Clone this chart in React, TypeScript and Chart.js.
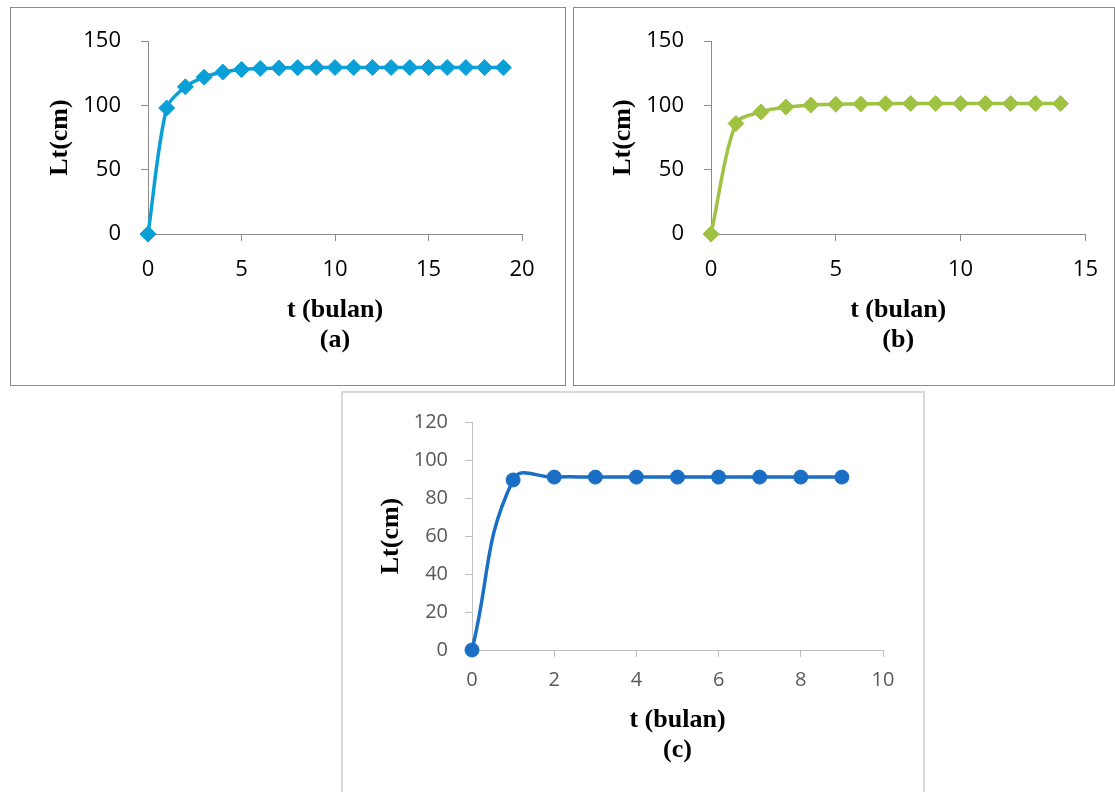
import React, { useEffect, useRef } from "react";
import { Chart, registerables } from "chart.js";

Chart.register(...registerables);

// ---- data ----
const tA = [0, 1, 2, 3, 4, 5, 6, 7, 8, 9, 10, 11, 12, 13, 14, 15, 16, 17, 18, 19];
const lA = [0, 98, 114.5, 122, 126, 128, 128.8, 129.2, 129.4, 129.5, 129.5, 129.5, 129.5, 129.5, 129.5, 129.5, 129.5, 129.5, 129.5, 129.5];
const xTicksA = [0, 5, 10, 15, 20];
const yTicksA = [0, 50, 100, 150];

const tB = [0, 1, 2, 3, 4, 5, 6, 7, 8, 9, 10, 11, 12, 13, 14];
const lB = [0, 86, 95, 98.8, 100.3, 100.9, 101.2, 101.4, 101.5, 101.5, 101.5, 101.5, 101.5, 101.5, 101.5];
const xTicksB = [0, 5, 10, 15];
const yTicksB = [0, 50, 100, 150];

const tC = [0, 1, 2, 3, 4, 5, 6, 7, 8, 9];
const lC = [0, 89.5, 91, 91, 91, 91, 91, 91, 91, 91];
const xTicksC = [0, 2, 4, 6, 8, 10];
const yTicksC = [0, 20, 40, 60, 80, 100, 120];

const xTitle = "t (bulan)";
const yTitle = "Lt(cm)";

type PanelProps = {
  left: number;
  top: number;
  w: number;
  h: number;
  borderW: number;
  borderColor: string;
  area: { left: number; top: number; right: number; bottom: number };
  titleBottom: number;
  yTitlePad: number;
  xs: number[];
  ys: number[];
  xTicks: number[];
  yTicks: number[];
  tag: string;
  color: string;
  pointStyle: string;
  pointRadius: number;
  lineWidth: number;
  tension: number;
  tickColor: string;
  axisColor: string;
  tickSize: number;
  xTickPad: number;
  yTickPad: number;
};

function Panel(p: PanelProps) {
  const ref = useRef<HTMLCanvasElement | null>(null);
  useEffect(() => {
    if (!ref.current) return;
    const titleFont = { family: "'Liberation Serif', 'Times New Roman', serif", size: 26, weight: "bold" as const, lineHeight: 30 / 26 };
    const tickFont = { family: "'Open Sans', sans-serif", size: p.tickSize };
    const chart = new Chart(ref.current, {
      type: "line",
      data: {
        datasets: [
          {
            data: p.xs.map((x, i) => ({ x, y: p.ys[i] })),
            borderColor: p.color,
            backgroundColor: p.color,
            borderWidth: p.lineWidth,
            pointStyle: p.pointStyle as any,
            pointRadius: p.pointRadius,
            pointBorderWidth: 1,
            pointBackgroundColor: p.color,
            pointBorderColor: p.color,
            tension: p.tension,
            fill: false,
            clip: false as any,
          },
        ],
      },
      options: {
        animation: false,
        responsive: false,
        maintainAspectRatio: false,
        layout: {
          padding: { left: 0, top: p.area.top, right: p.w - p.area.right, bottom: p.h - p.titleBottom },
        },
        plugins: { legend: { display: false }, tooltip: { enabled: false } },
        scales: {
          x: {
            type: "linear",
            min: p.xTicks[0],
            max: p.xTicks[p.xTicks.length - 1],
            afterFit: (s: any) => {
              s.height = p.titleBottom - p.area.bottom;
            },
            ticks: { stepSize: p.xTicks[1] - p.xTicks[0], color: p.tickColor, font: tickFont, padding: p.xTickPad, maxRotation: 0, autoSkip: false },
            grid: { display: true, drawOnChartArea: false, drawTicks: true, tickLength: 7, color: p.axisColor, lineWidth: 1 },
            border: { display: true, color: p.axisColor, width: 1 },
            title: { display: true, text: [xTitle, p.tag], color: "#000", font: titleFont, padding: 0 },
          },
          y: {
            type: "linear",
            min: p.yTicks[0],
            max: p.yTicks[p.yTicks.length - 1],
            afterFit: (s: any) => {
              s.width = p.area.left;
            },
            ticks: { stepSize: p.yTicks[1] - p.yTicks[0], color: p.tickColor, font: tickFont, padding: p.yTickPad },
            grid: { display: true, drawOnChartArea: false, drawTicks: true, tickLength: 7, color: p.axisColor, lineWidth: 1 },
            border: { display: true, color: p.axisColor, width: 1 },
            title: { display: true, text: yTitle, color: "#000", font: titleFont, padding: { top: p.yTitlePad, bottom: 0 } },
          },
        },
      } as any,
    });
    return () => chart.destroy();
  }, []);
  return (
    <div
      style={{
        position: "absolute",
        left: p.left,
        top: p.top,
        width: p.w,
        height: p.h,
        border: `${p.borderW}px solid ${p.borderColor}`,
        background: "#fff",
      }}
    >
      <canvas ref={ref} width={p.w} height={p.h} style={{ display: "block" }} />
    </div>
  );
}

export default function App() {
  return (
    <div style={{ position: "absolute", left: 0, top: 0, width: 1115, height: 792, overflow: "hidden", background: "#fff" }}>
      <Panel
        left={10}
        top={7}
        w={554}
        h={377}
        borderW={1}
        borderColor="#8a8a8a"
        area={{ left: 137, top: 28, right: 511, bottom: 226 }}
        titleBottom={347}
        yTitlePad={34}
        xs={tA}
        ys={lA}
        xTicks={xTicksA}
        yTicks={yTicksA}
        tag="(a)"
        color="#0b9fd8"
        pointStyle="rectRot"
        pointRadius={8}
        lineWidth={3.5}
        tension={0.3}
        tickColor="#000"
        axisColor="#8c8c8c"
        tickSize={22}
        xTickPad={16}
        yTickPad={20}
      />
      <Panel
        left={573}
        top={7}
        w={540}
        h={377}
        borderW={1}
        borderColor="#8a8a8a"
        area={{ left: 137, top: 28, right: 512, bottom: 226 }}
        titleBottom={347}
        yTitlePad={34}
        xs={tB}
        ys={lB}
        xTicks={xTicksB}
        yTicks={yTicksB}
        tag="(b)"
        color="#9fc243"
        pointStyle="rectRot"
        pointRadius={8}
        lineWidth={3.5}
        tension={0.3}
        tickColor="#000"
        axisColor="#8c8c8c"
        tickSize={22}
        xTickPad={16}
        yTickPad={20}
      />
      <Panel
        left={341}
        top={391}
        w={580}
        h={399}
        borderW={2}
        borderColor="#d9d9d9"
        area={{ left: 129, top: 27, right: 540, bottom: 257 }}
        titleBottom={372}
        yTitlePad={33}
        xs={tC}
        ys={lC}
        xTicks={xTicksC}
        yTicks={yTicksC}
        tag="(c)"
        color="#1a6ec4"
        pointStyle="circle"
        pointRadius={7}
        lineWidth={3.5}
        tension={0.45}
        tickColor="#595959"
        axisColor="#bfbfbf"
        tickSize={20}
        xTickPad={11}
        yTickPad={17}
      />
    </div>
  );
}
